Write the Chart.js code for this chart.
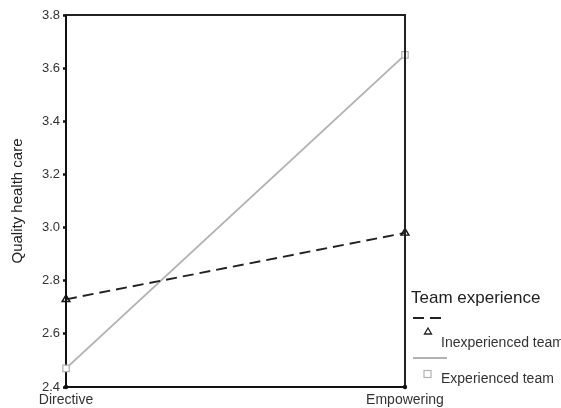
<!DOCTYPE html>
<html>
<head>
<meta charset="utf-8">
<script src="https://cdn.jsdelivr.net/npm/chart.js@4/dist/chart.umd.min.js"></script>
<style>
  html, body { margin: 0; padding: 0; background: #fff; }
  #wrap { width: 561px; height: 408px; }
</style>
</head>
<body>
<div id="wrap"><canvas id="c" width="561" height="408"></canvas></div>
<script>
// Leadership style on the x axis, one line per team-experience group
const categories = ['Directive', 'Empowering'];
const inexperienced = [2.73, 2.98];
const experienced = [2.47, 3.65];
const yTicks = [2.4, 2.6, 2.8, 3.0, 3.2, 3.4, 3.6, 3.8];
const seriesNames = ['Inexperienced team', 'Experienced team'];
const legendTitle = 'Team experience';
const yTitle = 'Quality health care';

const FONT = '"Liberation Sans", Arial, Helvetica, sans-serif';

// Box frame, category labels and the legend block at the right
const extras = {
  id: 'extras',
  afterDraw(chart) {
    const ctx = chart.ctx;
    const a = chart.chartArea;
    const xs = chart.scales.x;
    ctx.save();
    // top and right sides of the frame
    ctx.strokeStyle = '#222';
    ctx.lineWidth = 2;
    ctx.beginPath();
    ctx.moveTo(a.left, a.top);
    ctx.lineTo(a.right, a.top);
    ctx.lineTo(a.right, a.bottom);
    ctx.stroke();
    // corner dots at the category positions
    ctx.fillStyle = '#111';
    categories.forEach((c, i) => {
      const px = xs.getPixelForValue(i);
      ctx.beginPath();
      ctx.arc(px, a.bottom, 2.2, 0, Math.PI * 2);
      ctx.fill();
    });
    // category labels, centred under each category position
    ctx.fillStyle = '#333';
    ctx.font = '14px ' + FONT;
    ctx.textBaseline = 'middle';
    ctx.textAlign = 'center';
    categories.forEach((c, i) => {
      ctx.fillText(c, xs.getPixelForValue(i), a.bottom + 13);
    });

    // legend
    const ds = chart.data.datasets;
    ctx.textAlign = 'left';
    ctx.fillStyle = '#222';
    ctx.font = '17px ' + FONT;
    ctx.fillText(legendTitle, 411, 298);

    // dashed sample
    ctx.strokeStyle = ds[0].borderColor;
    ctx.lineWidth = 1.8;
    ctx.setLineDash([11, 6]);
    ctx.beginPath();
    ctx.moveTo(413, 318);
    ctx.lineTo(447, 318);
    ctx.stroke();
    ctx.setLineDash([]);
    // triangle marker
    ctx.lineWidth = 1.3;
    ctx.beginPath();
    ctx.moveTo(428, 328);
    ctx.lineTo(431.5, 334);
    ctx.lineTo(424.5, 334);
    ctx.closePath();
    ctx.stroke();
    ctx.fillStyle = '#333';
    ctx.font = '14px ' + FONT;
    ctx.fillText(seriesNames[0], 441, 343);

    // solid grey sample
    ctx.strokeStyle = ds[1].borderColor;
    ctx.lineWidth = 1.8;
    ctx.beginPath();
    ctx.moveTo(413, 358);
    ctx.lineTo(447, 358);
    ctx.stroke();
    // square marker
    ctx.lineWidth = 1.2;
    ctx.strokeRect(424, 370.5, 7, 7);
    ctx.fillText(seriesNames[1], 441, 379);
    ctx.restore();
  }
};

new Chart(document.getElementById('c'), {
  type: 'line',
  data: {
    labels: categories,
    datasets: [
      {
        label: seriesNames[0],
        data: inexperienced,
        borderColor: '#222',
        borderWidth: 1.9,
        borderDash: [11, 6],
        pointStyle: 'triangle',
        pointRadius: 4.5,
        pointBorderWidth: 1.4,
        pointBorderColor: '#111',
        pointBackgroundColor: 'rgba(255,255,255,0)',
        tension: 0
      },
      {
        label: seriesNames[1],
        data: experienced,
        borderColor: '#b2b2b2',
        borderWidth: 1.9,
        pointStyle: 'rect',
        pointRadius: 4.5,
        pointBorderWidth: 1.3,
        pointBorderColor: '#b2b2b2',
        pointBackgroundColor: '#fff',
        tension: 0
      }
    ]
  },
  options: {
    responsive: false,
    animation: false,
    layout: { padding: { top: 15, right: 156, left: 0, bottom: 0 } },
    plugins: { legend: { display: false }, tooltip: { enabled: false } },
    scales: {
      x: {
        type: 'category',
        offset: false,
        grid: { display: false },
        border: { display: true, color: '#111', width: 2 },
        ticks: { display: false },
        afterFit(scale) { scale.height = 21; }
      },
      y: {
        min: 2.4,
        max: 3.8,
        afterBuildTicks(scale) { scale.ticks = yTicks.map(v => ({ value: v })); },
        grid: { drawOnChartArea: false, drawTicks: true, tickLength: 3, tickWidth: 2.5, color: '#111' },
        border: { display: true, color: '#111', width: 2 },
        ticks: {
          color: '#333',
          font: { family: FONT, size: 13 },
          padding: 3,
          callback: v => Number(v).toFixed(1)
        },
        title: {
          display: true,
          text: yTitle,
          color: '#222',
          font: { family: FONT, size: 15 },
          padding: { top: 9, bottom: 0 }
        },
        afterFit(scale) { scale.width = 66; }
      }
    }
  },
  plugins: [extras]
});
</script>
</body>
</html>
